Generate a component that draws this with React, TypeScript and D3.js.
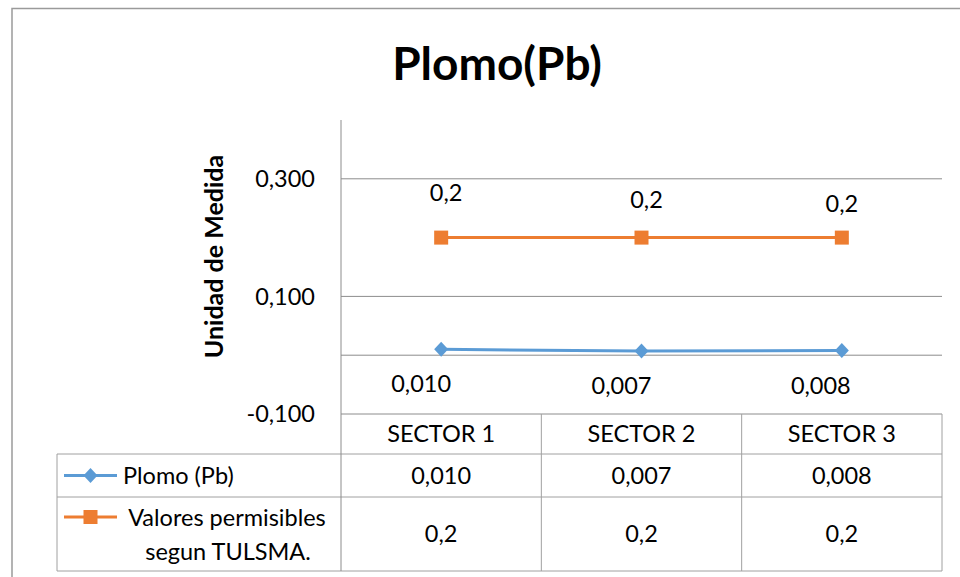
import React from "react";
import * as d3 from "d3";

// Sampling sectors and measured lead values
const categories = ["SECTOR 1", "SECTOR 2", "SECTOR 3"];
const plomoValues = [0.01, 0.007, 0.008];
const tulsmaValues = [0.2, 0.2, 0.2];
const seriesNames = ["Plomo (Pb)", "Valores permisibles segun TULSMA."];
const tickValues = [-0.1, 0.1, 0.3];
const titleText = "Plomo(Pb)";
const yAxisTitle = "Unidad de Medida";

const W = 960;
const H = 577;
const FONT = "Lato, 'Open Sans', sans-serif";
const FS = 23.5;
const BLUE = "#5B9BD5";
const ORANGE = "#ED7D31";
const GRID = "#8c8c8c";
const RULE = "#a0a0a0";

// Plot frame
const plotLeft = 341;
const plotRight = 942;
const plotTop = 120;
const plotBottom = 414;
// Data table rows
const tableLeft = 57;
const headerBottom = 454;
const row1Bottom = 497;
const row2Bottom = 571;

// Data label nudges (px) relative to each marker
const orangeLabelDx = [5, 5, 0];
const orangeLabelDy = [-45, -38, -34];
const blueLabelDx = [-20, -20, -21];
const blueLabelDy = [34, 34, 35];

const es = d3.formatLocale({
  decimal: ",",
  thousands: ".",
  grouping: [3],
  currency: ["", "€"],
  minus: "-",
});
const fmt3 = es.format(".3f");
const fmt1 = es.format(".1f");

export default function App() {
  const x = d3
    .scaleBand<string>()
    .domain(categories)
    .range([plotLeft, plotRight])
    .paddingInner(0)
    .paddingOuter(0);
  const cx = (c: string) => (x(c) as number) + x.bandwidth() / 2;
  const y = d3.scaleLinear().domain([-0.1, 0.4]).range([plotBottom, plotTop]);

  const line = d3
    .line<number>()
    .x((_, i) => cx(categories[i]))
    .y((v) => y(v));

  const diamond = (px: number, py: number) =>
    `M${px},${py - 7.5} L${px + 7},${py} L${px},${py + 7.5} L${px - 7},${py} Z`;

  const textStyle = { fontFamily: FONT, fill: "#000" } as const;

  const legendLineX0 = 64;
  const legendLineX1 = 117;
  const legendMarkX = (legendLineX0 + legendLineX1) / 2;
  const row1Mid = (headerBottom + row1Bottom) / 2;
  const row2Mid = (row1Bottom + row2Bottom) / 2;
  const headerMid = (plotBottom + headerBottom) / 2;
  const [nameA, nameB] = seriesNames[1].split(" segun ");

  return (
    <div style={{ position: "absolute", left: 0, top: 0 }}>
      <svg width={W} height={H} viewBox={`0 0 ${W} ${H}`} style={{ display: "block" }}>
        <rect x={0} y={0} width={W} height={H} fill="#fff" />
        {/* chart area border */}
        <path d={`M12,${H} V8.5 H${W}`} fill="none" stroke="#9a9a9a" strokeWidth={1.5} />

        {/* title */}
        <text x={497} y={80} textAnchor="middle" fontSize={46} fontWeight={700} style={textStyle}>
          {titleText}
        </text>

        {/* y axis title */}
        <text
          transform={`translate(223,256.5) rotate(-90)`}
          textAnchor="middle"
          fontSize={25}
          fontWeight={700}
          style={textStyle}
        >
          {yAxisTitle}
        </text>

        {/* gridlines */}
        {tickValues.map((v) => (
          <line key={v} x1={plotLeft} x2={plotRight} y1={y(v)} y2={y(v)} stroke={GRID} strokeWidth={1} />
        ))}
        {/* category axis at zero */}
        <line x1={plotLeft} x2={plotRight} y1={y(0)} y2={y(0)} stroke={GRID} strokeWidth={1} />

        {/* y tick labels */}
        {tickValues.map((v) => (
          <text key={v} x={315} y={y(v)} dy="0.36em" textAnchor="end" fontSize={FS} style={textStyle}>
            {fmt3(v)}
          </text>
        ))}

        {/* data table rules */}
        <g stroke={RULE} strokeWidth={1} fill="none">
          <line x1={tableLeft} x2={plotRight} y1={headerBottom} y2={headerBottom} />
          <line x1={tableLeft} x2={plotRight} y1={row1Bottom} y2={row1Bottom} />
          <line x1={tableLeft} x2={plotRight} y1={row2Bottom} y2={row2Bottom} />
          <line x1={tableLeft} x2={tableLeft} y1={headerBottom} y2={row2Bottom} />
          {categories.map((c) => (
            <line
              key={c}
              x1={(x(c) as number) + x.bandwidth()}
              x2={(x(c) as number) + x.bandwidth()}
              y1={plotBottom}
              y2={row2Bottom}
            />
          ))}
        </g>
        {/* vertical axis, continuing down through the table */}
        <line x1={plotLeft} x2={plotLeft} y1={plotTop} y2={row2Bottom} stroke={GRID} strokeWidth={1} />

        {/* category headers */}
        {categories.map((c) => (
          <text key={c} x={cx(c)} y={headerMid} dy="0.36em" textAnchor="middle" fontSize={FS} style={textStyle}>
            {c}
          </text>
        ))}

        {/* table values */}
        {categories.map((c, i) => (
          <g key={c}>
            <text x={cx(c)} y={row1Mid} dy="0.36em" textAnchor="middle" fontSize={FS} style={textStyle}>
              {fmt3(plomoValues[i])}
            </text>
            <text x={cx(c)} y={row2Mid} dy="0.36em" textAnchor="middle" fontSize={FS} style={textStyle}>
              {fmt1(tulsmaValues[i])}
            </text>
          </g>
        ))}

        {/* legend keys in the table */}
        <line x1={legendLineX0} x2={legendLineX1} y1={row1Mid} y2={row1Mid} stroke={BLUE} strokeWidth={3} />
        <path d={diamond(legendMarkX, row1Mid)} fill={BLUE} />
        <text x={123} y={row1Mid} dy="0.36em" fontSize={FS} style={textStyle}>
          {seriesNames[0]}
        </text>
        <line x1={legendLineX0} x2={legendLineX1} y1={517} y2={517} stroke={ORANGE} strokeWidth={3} />
        <rect x={legendMarkX - 7} y={517 - 7} width={14} height={14} fill={ORANGE} />
        <text x={227} y={518} dy="0.36em" textAnchor="middle" fontSize={FS} style={textStyle}>
          {nameA}
        </text>
        <text x={228} y={551.5} dy="0.36em" textAnchor="middle" fontSize={FS} style={textStyle}>
          {"segun " + nameB}
        </text>

        {/* series lines */}
        <path d={line(tulsmaValues) ?? ""} fill="none" stroke={ORANGE} strokeWidth={3} />
        <path d={line(plomoValues) ?? ""} fill="none" stroke={BLUE} strokeWidth={3} />

        {/* markers */}
        {tulsmaValues.map((v, i) => (
          <rect key={i} x={cx(categories[i]) - 7} y={y(v) - 7} width={14} height={14} fill={ORANGE} />
        ))}
        {plomoValues.map((v, i) => (
          <path key={i} d={diamond(cx(categories[i]), y(v))} fill={BLUE} />
        ))}

        {/* data labels */}
        {tulsmaValues.map((v, i) => (
          <text
            key={i}
            x={cx(categories[i]) + orangeLabelDx[i]}
            y={y(v) + orangeLabelDy[i]}
            dy="0.36em"
            textAnchor="middle"
            fontSize={FS}
            style={textStyle}
          >
            {fmt1(v)}
          </text>
        ))}
        {plomoValues.map((v, i) => (
          <text
            key={i}
            x={cx(categories[i]) + blueLabelDx[i]}
            y={y(v) + blueLabelDy[i]}
            dy="0.36em"
            textAnchor="middle"
            fontSize={FS}
            style={textStyle}
          >
            {fmt3(v)}
          </text>
        ))}
      </svg>
    </div>
  );
}
